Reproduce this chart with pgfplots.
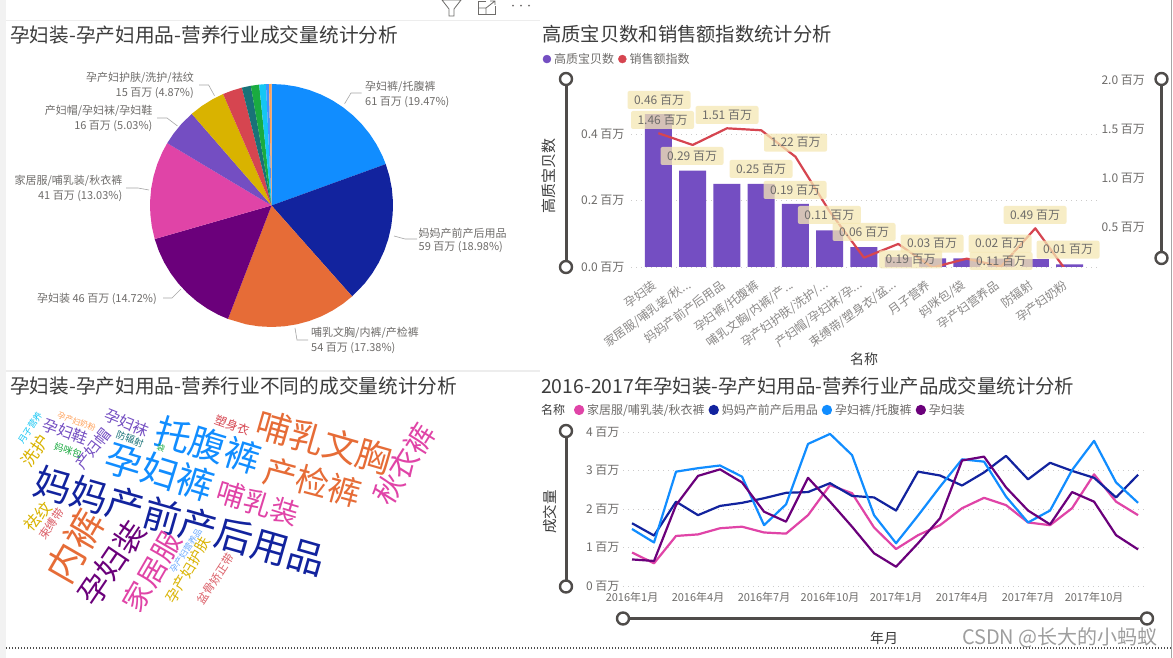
\documentclass[border=0pt]{standalone}
\usepackage{fontspec}
\setmainfont{Noto Sans CJK SC}
\usepackage{pgfplots}
\pgfplotsset{compat=1.18}
\usepgfplotslibrary{polar}

\definecolor{cBlue}{HTML}{118DFF}
\definecolor{cNavy}{HTML}{12239E}
\definecolor{cOrange}{HTML}{E66C37}
\definecolor{cPlum}{HTML}{6B007B}
\definecolor{cPink}{HTML}{E044A7}
\definecolor{cViolet}{HTML}{744EC2}
\definecolor{cGold}{HTML}{D9B300}
\definecolor{cRed}{HTML}{D64550}
\definecolor{cTeal}{HTML}{197278}
\definecolor{cGreen}{HTML}{1AAB40}
\definecolor{cCyan}{HTML}{15C6F4}
\definecolor{cSky}{HTML}{4092FF}
\definecolor{cPeach}{HTML}{FFA058}
\definecolor{cText}{HTML}{6E6C6A}
\definecolor{cTitle}{HTML}{3C3C3C}
\definecolor{cKnob}{HTML}{4F4C4A}
\definecolor{cTag}{HTML}{F5E8B4}

\newcommand\fs[1]{\fontsize{#1}{#1}\selectfont}
\newcommand\dd{.{}.{}.}
% word cloud: x, y, angle, colour, size, text
\newcommand\W[6]{\node[rotate=#3,text=#4,font=\fs{#5},inner sep=0pt] at (#1,#2) {#6};}
% value tag of the bar chart
\newcommand\tag[3]{\node[fill=cTag,fill opacity=.75,text opacity=1,text=cText,font=\fs{12},
  rounded corners=2pt,inner xsep=6.5pt,inner ysep=0pt,minimum height=18pt] at (#1,#2) {#3};}
\newcommand\knob[2]{\draw[cKnob,line width=2.4pt,fill=white] (#1,#2) circle (6pt);}

\pgfplotsset{
  clean/.style={scale only axis, axis line style={draw=none}, tick style={draw=none},
    tick label style={text=cText,font=\fs{12}}, clip=true},
  dots/.style={grid=major, grid style={cText!35,line width=.9pt,dash pattern=on 1pt off 4pt}},
  dotlegend/.style={legend image code/.code={\fill[##1] (0pt,0pt) circle (4pt);},
    legend style={draw=none,fill=none,inner sep=0pt,outer sep=0pt,font=\fs{12},text=cText,
      legend columns=-1,anchor=west,
      /tikz/every odd column/.append style={column sep=1pt},
      /tikz/every even column/.append style={column sep=2pt}}},
}

\begin{document}
\begin{tikzpicture}
\useasboundingbox (0,0) rectangle (1173pt,658pt);
\fill[white] (0,0) rectangle (1173pt,658pt);

% ---- pie ----
\begin{axis}[at={(150pt,331pt)},anchor=south west,scale only axis,width=243pt,height=243pt,
  xmin=-1,xmax=1,ymin=-1,ymax=1,hide axis,clip=false]
\addplot[fill=cBlue,draw=none,data cs=polar] coordinates {(0,0) (90,1) (84,1) (78,1) (72,1) (66,1) (60,1) (54,1) (48,1) (42,1) (36,1) (30,1) (24,1) (19.91,1)} -- cycle;
\addplot[fill=cNavy,draw=none,data cs=polar] coordinates {(0,0) (19.91,1) (14,1) (8,1) (2,1) (-4,1) (-10,1) (-16,1) (-22,1) (-28,1) (-34,1) (-40,1) (-48.42,1)} -- cycle;
\addplot[fill=cOrange,draw=none,data cs=polar] coordinates {(0,0) (-48.42,1) (-54,1) (-60,1) (-66,1) (-72,1) (-78,1) (-84,1) (-90,1) (-96,1) (-102,1) (-110.99,1)} -- cycle;
\addplot[fill=cPlum,draw=none,data cs=polar] coordinates {(0,0) (-110.99,1) (-116,1) (-122,1) (-128,1) (-134,1) (-140,1) (-146,1) (-152,1) (-158,1) (-163.98,1)} -- cycle;
\addplot[fill=cPink,draw=none,data cs=polar] coordinates {(0,0) (-163.98,1) (-170,1) (-176,1) (-182,1) (-188,1) (-194,1) (-200,1) (-206,1) (-210.89,1)} -- cycle;
\addplot[fill=cViolet,draw=none,data cs=polar] coordinates {(0,0) (-210.89,1) (-216,1) (-222,1) (-229,1)} -- cycle;
\addplot[fill=cGold,draw=none,data cs=polar] coordinates {(0,0) (-229,1) (-235,1) (-241,1) (-246.53,1)} -- cycle;
\addplot[fill=cRed,draw=none,data cs=polar] coordinates {(0,0) (-246.53,1) (-251,1) (-255.89,1)} -- cycle;
\addplot[fill=cTeal,draw=none,data cs=polar] coordinates {(0,0) (-255.89,1) (-260.2,1)} -- cycle;
\addplot[fill=cGreen,draw=none,data cs=polar] coordinates {(0,0) (-260.2,1) (-264.17,1)} -- cycle;
\addplot[fill=cCyan,draw=none,data cs=polar] coordinates {(0,0) (-264.17,1) (-267.4,1)} -- cycle;
\addplot[fill=cSky,draw=none,data cs=polar] coordinates {(0,0) (-267.4,1) (-268.85,1)} -- cycle;
\addplot[fill=cPeach,draw=none,data cs=polar] coordinates {(0,0) (-268.85,1) (-270,1)} -- cycle;
\end{axis}

% ---- bars, left scale ----
\begin{axis}[clean,dots,dotlegend,at={(631pt,391pt)},anchor=south west,width=467pt,height=187.5pt,
  xmin=-0.8,xmax=12.83,ymin=0,ymax=0.564,
  ytick={0,0.2,0.4},yticklabels={0.0 百万,0.2 百万,0.4 百万},
  xmajorgrids=false,
  yticklabel style={xshift=-3pt},
  xtick={0,1,2,3,4,5,6,7,8,9,10,11,12},
  xticklabels={孕妇装,家居服/哺乳装/秋\dd,妈妈产前产后用品,孕妇裤/托腹裤,哺乳文胸/内裤/产\dd,孕产妇护肤/洗护/\dd,产妇帽/孕妇袜/孕\dd,束缚带/塑身衣/盆\dd,月子营养,妈咪包/袋,孕产妇营养品,防辐射,孕产妇奶粉},
  xticklabel style={rotate=36,anchor=north east,yshift=-2pt,xshift=-9pt,text=cText!80},
  legend style={at={(-0.189,1.109)}}]
\addlegendimage{color=cViolet}\addlegendentry{高质宝贝数}
\addlegendimage{color=cRed}\addlegendentry{销售额指数}
\addplot[ybar,bar width=27pt,fill=cViolet,draw=none,forget plot] coordinates {
  (0,0.46) (1,0.29) (2,0.25) (3,0.25) (4,0.19) (5,0.11) (6,0.06)
  (7,0.03) (8,0.026) (9,0.026) (10,0.025) (11,0.024) (12,0.008)};
\end{axis}

% ---- line, right scale ----
\begin{axis}[clean,at={(631pt,391pt)},anchor=south west,width=467pt,height=187.5pt,
  xmin=-0.8,xmax=12.83,ymin=0.095,ymax=2.008,xtick=\empty,
  ytick={0.5,1,1.5,2},yticklabels={0.5 百万,1.0 百万,1.5 百万,2.0 百万},
  yticklabel pos=right]
\addplot[cRed,line width=2.2pt,line join=round] coordinates {
  (0,1.46) (1,1.34) (2,1.51) (3,1.49) (4,1.22) (5,0.66) (6,0.19)
  (7,0.33) (8,0.09) (9,0.18) (10,0.10) (11,0.49) (12,0.01)};
\end{axis}

% ---- monthly lines ----
\begin{axis}[clean,dots,dotlegend,at={(623pt,72pt)},anchor=south west,width=521pt,height=154pt,
  xmin=-0.41,xmax=23.27,ymin=0,ymax=4,
  ytick={0,1,2,3,4},yticklabels={0 百万,1 百万,2 百万,3 百万,4 百万},
  xmajorgrids=false,
  xtick={0,3,6,9,12,15,18,21},
  xticklabels={2016年1月,2016年4月,2016年7月,2016年10月,2017年1月,2017年4月,2017年7月,2017年10月},
  xticklabel style={font=\fs{11},yshift=-3pt},
  legend style={at={(-0.094,1.143)}}]
\addplot[cPink,line width=2.2pt,line join=round] coordinates {
  (0,0.87) (1,0.59) (2,1.30) (3,1.34) (4,1.50) (5,1.54) (6,1.39) (7,1.36)
  (8,1.84) (9,2.62) (10,2.41) (11,1.52) (12,0.96) (13,1.32) (14,1.58) (15,2.02)
  (16,2.29) (17,2.10) (18,1.65) (19,1.58) (20,2.02) (21,2.90) (22,2.19) (23,1.84)};
\addlegendentry{家居服/哺乳装/秋衣裤}
\addplot[cNavy,line width=2.2pt,line join=round] coordinates {
  (0,1.63) (1,1.31) (2,2.19) (3,1.84) (4,2.08) (5,2.16) (6,2.28) (7,2.42)
  (8,2.44) (9,2.67) (10,2.34) (11,2.30) (12,1.96) (13,2.97) (14,2.87) (15,2.61)
  (16,2.95) (17,3.38) (18,2.77) (19,3.20) (20,2.99) (21,2.81) (22,2.30) (23,2.89)};
\addlegendentry{妈妈产前产后用品}
\addplot[cBlue,line width=2.2pt,line join=round] coordinates {
  (0,1.48) (1,1.13) (2,2.97) (3,3.06) (4,3.13) (5,2.84) (6,1.58) (7,2.12)
  (8,3.69) (9,3.95) (10,3.40) (11,1.84) (12,1.11) (13,1.83) (14,2.58) (15,3.29)
  (16,3.23) (17,2.32) (18,1.65) (19,1.96) (20,3.01) (21,3.77) (22,2.69) (23,2.16)};
\addlegendentry{孕妇裤/托腹裤}
\addplot[cPlum,line width=2.2pt,line join=round] coordinates {
  (0,0.69) (1,0.65) (2,2.10) (3,2.86) (4,3.03) (5,2.69) (6,1.93) (7,1.67)
  (8,2.81) (9,2.19) (10,1.54) (11,0.85) (12,0.50) (13,1.11) (14,1.76) (15,3.26)
  (16,3.36) (17,2.56) (18,1.96) (19,1.60) (20,2.44) (21,2.19) (22,1.32) (23,0.95)};
\addlegendentry{孕妇装}
\end{axis}

% everything below is placed in reference pixels, y downwards
\begin{scope}[x=1pt,y=-1pt,shift={(0pt,658pt)}]
% page furniture
\fill[black!5] (0,0) rectangle (6,658);
\draw[black!7,line width=1pt] (6,21) -- (540,21);
\draw[black!7,line width=1.5pt] (6,371) -- (540,371);
\draw[black!35,line width=1pt] (1171.5,0) -- (1171.5,658);
\draw[black!70,line width=1.4pt,dash pattern=on 1.4pt off 1.6pt] (6,648) -- (1171,648);
\draw[cText,line width=.8pt] (442,0) -- (461,0) -- (454,9) -- (454,16) -- (449,16) -- (449,9) -- cycle;
\draw[cText,line width=.8pt] (486,1) -- (478,1) -- (478,14) -- (495,14) -- (495,6);
\draw[cText,line width=.8pt] (478,8) -- (486,8) -- (486,14) (486,8) -- (495,1) (490,1) -- (495,1) -- (495,5);
\foreach \x in {513,521,529} \fill[cText] (\x,5.7) circle (1pt);

% titles
\node[anchor=west,inner sep=0pt,text=cTitle,font=\fs{19.7}] at (10,35) {孕妇装-孕产妇用品-营养行业成交量统计分析};
\node[anchor=west,inner sep=0pt,text=cTitle,font=\fs{19.3}] at (542,34) {高质宝贝数和销售额指数统计分析};
\node[anchor=west,inner sep=0pt,text=cTitle,font=\fs{19.7}] at (10,386) {孕妇装-孕产妇用品-营养行业不同的成交量统计分析};
\node[anchor=west,inner sep=0pt,text=cTitle,font=\fs{19.4}] at (541,386) {2016-2017年孕妇装-孕产妇用品-营养行业产品成交量统计分析};

% pie labels and leaders
\begin{scope}[every node/.style={text=cText,font=\fs{11},inner sep=0pt,align=left}]
\draw[black!35,line width=.6pt] (361.6,93) -- (351,93) -- (344.6,103.7);
\draw[black!35,line width=.6pt] (417,239) -- (405,239) -- (394,236);
\draw[black!35,line width=.6pt] (308,340) -- (297,340) -- (295,328);
\draw[black!35,line width=.6pt] (163,298) -- (172,298) -- (181,289);
\draw[black!35,line width=.6pt] (126,188) -- (138,188) -- (149,190);
\draw[black!35,line width=.6pt] (157,118) -- (167,118) -- (177.5,126);
\draw[black!35,line width=.6pt] (199,85) -- (208.6,85) -- (214.5,95.7);
\node[anchor=west] at (365,87) {孕妇裤/托腹裤};
\node[anchor=west] at (365,102) {61 百万 (19.47\%)};
\node[anchor=west] at (418.5,233) {妈妈产前产后用品};
\node[anchor=west] at (418.5,247) {59 百万 (18.98\%)};
\node[anchor=west] at (311,333) {哺乳文胸/内裤/产检裤};
\node[anchor=west] at (311,348) {54 百万 (17.38\%)};
\node[anchor=east] at (157,299) {孕妇装 46 百万 (14.72\%)};
\node[anchor=east] at (122.5,181) {家居服/哺乳装/秋衣裤};
\node[anchor=east] at (122.5,196) {41 百万 (13.03\%)};
\node[anchor=east] at (152.6,111) {产妇帽/孕妇袜/孕妇鞋};
\node[anchor=east] at (152.6,126) {16 百万 (5.03\%)};
\node[anchor=east] at (194,78) {孕产妇护肤/洗护/祛纹};
\node[anchor=east] at (194,93) {15 百万 (4.87\%)};
\end{scope}

% value tags
\tag{659}{100}{0.46 百万}
\tag{662.5}{120}{1.46 百万}
\tag{727}{115}{1.51 百万}
\tag{692}{156}{0.29 百万}
\tag{761}{169}{0.25 百万}
\tag{795.5}{142.7}{1.22 百万}
\tag{795}{190}{0.19 百万}
\tag{829.4}{215}{0.11 百万}
\tag{864}{232}{0.06 百万}
\tag{932}{243.7}{0.03 百万}
\tag{910.6}{259.3}{0.19 百万}
\tag{1000}{243.7}{0.02 百万}
\tag{1001}{261}{0.11 百万}
\tag{1035}{215}{0.49 百万}
\tag{1068}{249.7}{0.01 百万}

% axis titles
\node[rotate=90,text=cTitle,font=\fs{15},inner sep=0pt] at (549,176) {高质宝贝数};
\node[text=cTitle,font=\fs{14},inner sep=0pt] at (864,359) {名称};
\node[rotate=90,text=cTitle,font=\fs{14.5},inner sep=0pt] at (550,512) {成交量};
\node[text=cTitle,font=\fs{14},inner sep=0pt] at (884,638) {年月};
\node[anchor=west,text=cTitle,font=\fs{12},inner sep=0pt] at (541,410) {名称};
\node[anchor=east,text=black!38,font=\fs{20},inner sep=0pt] at (1158,638) {CSDN @长大的小蚂蚁};

% scroll bars
\draw[cKnob,line width=3pt] (566,79) -- (566,267);
\knob{566}{79}\knob{566}{267}
\draw[cKnob,line width=3pt] (1161.5,79) -- (1161.5,258);
\knob{1161.5}{79}\knob{1161.5}{258}
\draw[cKnob,line width=3pt] (566,431) -- (566,586.5);
\knob{566}{431}\knob{566}{586.5}
\draw[cKnob,line width=3pt] (623,618.5) -- (1147,618.5);
\knob{623}{618.5}\knob{1147}{618.5}

% word cloud
\W{180}{521}{-16}{cNavy}{37.5}{妈妈产前产后用品}
\W{160}{472}{-17}{cBlue}{37}{孕妇裤}
\W{208}{445}{-17}{cBlue}{36}{托腹裤}
\W{324}{442}{-16}{cOrange}{35}{哺乳文胸}
\W{313}{482}{-15}{cOrange}{33}{产检裤}
\W{404}{464}{58}{cPink}{29.5}{秋衣裤}
\W{258}{503}{-17}{cPink}{28}{哺乳装}
\W{75}{546}{60}{cOrange}{38}{内裤}
\W{111.7}{563}{56}{cPlum}{31}{孕妇装}
\W{151.7}{571.7}{60}{cPink}{28.5}{家居服}
\W{188}{570}{60}{cGold}{14.5}{孕产妇护肤}
\W{215.7}{579}{57}{cRed!85}{11.5}{盆骨矫正带}
\W{185.7}{550.7}{57}{cSky!80}{8.5}{孕产妇营养品}
\W{51.7}{524}{55}{cRed!85}{11.5}{束缚带}
\W{38}{516.7}{48}{cGold}{16}{祛纹}
\W{35}{451}{55}{cGold}{17}{洗护}
\W{30}{428}{57}{cCyan}{9}{月子营养}
\W{76.7}{421.7}{-20}{cPeach}{8}{孕产妇奶粉}
\W{65.7}{431.7}{-20}{cViolet}{15.5}{孕妇鞋}
\W{127}{423}{-22}{cViolet}{15.5}{孕妇袜}
\W{93}{449}{52}{cViolet}{15.5}{产妇帽}
\W{130}{439}{-20}{cTeal}{9.5}{防辐射}
\W{68}{450.7}{-18}{cGreen}{9.5}{妈咪包}
\W{161}{448}{-20}{cGreen}{8}{袋}
\W{232}{425}{-20}{cRed}{12}{塑身衣}
\end{scope}
\end{tikzpicture}
\end{document}
